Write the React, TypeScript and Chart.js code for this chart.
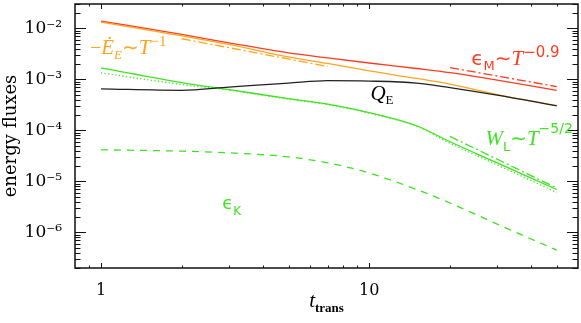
import React, { useEffect, useRef } from "react";
import { Chart, registerables } from "chart.js";

Chart.register(...registerables);

// ---- data ----
const tSim = [1, 2, 3, 5, 7, 10, 15, 20, 30, 50];
const epsM = [1.39e-2, 7.62e-3, 5.19e-3, 3.3e-3, 2.63e-3, 2.09e-3, 1.63e-3, 1.35e-3, 9.68e-4, 6.1e-4];
const dissE = [1.33e-2, 7.12e-3, 4.84e-3, 2.75e-3, 2.05e-3, 1.46e-3, 1.04e-3, 8.07e-4, 5.02e-4, 3.05e-4];
const qE = [6.5e-4, 6.1e-4, 7.05e-4, 8.45e-4, 9.46e-4, 9.26e-4, 8.45e-4, 6.9e-4, 4.91e-4, 3.02e-4];
const wL = [1.68e-3, 8.65e-4, 6.3e-4, 4.19e-4, 3.27e-4, 2.22e-4, 1.23e-4, 5.97e-5, 2.3e-5, 6.93e-6];
const wLdot = [1.34e-3, 7.91e-4, 6.15e-4, 4.09e-4, 3.19e-4, 2.17e-4, 1.21e-4, 5.57e-5, 2.1e-5, 6.05e-6];
const epsK = [4.15e-5, 3.91e-5, 3.62e-5, 3.02e-5, 2.3e-5, 1.46e-5, 6.93e-6, 3.76e-6, 1.45e-6, 4.47e-7];

// power-law guides
const tFitE = [2, 7];
const fitE = [6.25e-3, 1.79e-3];
const tFitM = [20, 50];
const fitM = [1.7e-3, 7.2e-4];
const tFitW = [20, 50];
const fitW = [7.59e-5, 7.41e-6];

// axes
const xRange = [0.8, 60];
const yRange = [2e-7, 3e-2];
const xMajorTicks = [1, 10];
const yMajorTicks = [1e-6, 1e-5, 1e-4, 1e-3, 1e-2];

const RED = "#ff3b1f";
const ORANGE = "#ffa41c";
const GREEN = "#3ee31f";
const BLACK = "#222222";

const SUP: Record<string, string> = {
  "-": "\u207B", "0": "\u2070", "1": "\u00B9", "2": "\u00B2", "3": "\u00B3",
  "4": "\u2074", "5": "\u2075", "6": "\u2076", "7": "\u2077", "8": "\u2078", "9": "\u2079",
};

const pts = (xs: number[], ys: number[]) => xs.map((x, i) => ({ x, y: ys[i] }));

type Part = [string, string, number];

function richWidth(ctx: CanvasRenderingContext2D, parts: Part[]) {
  let w = 0;
  for (const [t, f] of parts) {
    ctx.font = f;
    w += ctx.measureText(t).width;
  }
  return w;
}

function rich(ctx: CanvasRenderingContext2D, x: number, y: number, color: string, parts: Part[]) {
  ctx.fillStyle = color;
  ctx.textAlign = "left";
  ctx.textBaseline = "alphabetic";
  let cx = x;
  for (const [t, f, dy] of parts) {
    ctx.font = f;
    ctx.fillText(t, cx, y + dy);
    cx += ctx.measureText(t).width;
  }
}

const SER = '"Liberation Serif", serif';
const SANS = '"DejaVu Sans", sans-serif';

const framePlugin = {
  id: "frame",
  afterDraw(chart: any) {
    const { ctx, chartArea: a, scales } = chart;
    const xs = scales.x;
    const ys = scales.y;
    ctx.save();
    // frame
    ctx.strokeStyle = "#111";
    ctx.lineWidth = 1.5;
    ctx.strokeRect(a.left, a.top, a.right - a.left, a.bottom - a.top);
    // inner ticks
    ctx.lineWidth = 1;
    ctx.beginPath();
    for (let d = -8; d <= 0; d++) {
      for (let m = 1; m <= 9; m++) {
        const v = m * Math.pow(10, d);
        if (v < ys.min * 0.999 || v > ys.max * 1.001) continue;
        const py = Math.round(ys.getPixelForValue(v)) + 0.5;
        const L = m === 1 ? 11 : 5.5;
        ctx.moveTo(a.left, py);
        ctx.lineTo(a.left + L, py);
        ctx.moveTo(a.right, py);
        ctx.lineTo(a.right - L, py);
      }
    }
    for (let d = -1; d <= 2; d++) {
      for (let m = 1; m <= 9; m++) {
        const v = m * Math.pow(10, d);
        if (v <= xs.min * 1.001 || v >= xs.max * 0.999) continue;
        const px = Math.round(xs.getPixelForValue(v)) + 0.5;
        const L = m === 1 ? 5 : 2.5;
        ctx.moveTo(px, a.bottom);
        ctx.lineTo(px, a.bottom - L);
        ctx.moveTo(px, a.top);
        ctx.lineTo(px, a.top + L);
      }
    }
    ctx.stroke();

    const P = (xv: number, yv: number) => [xs.getPixelForValue(xv), ys.getPixelForValue(yv)];

    // annotations
    let [lx, ly] = P(0.91, 3.08e-3);
    rich(ctx, lx, ly, ORANGE, [
      ["\u2212", `20px ${SER}`, 0],
      ["\u0116", `italic 21px ${SER}`, 0],
      ["E", `italic 13px ${SER}`, 5],
      ["\u223C", `20px ${SANS}`, 0],
      ["T", `italic 21px ${SER}`, 0],
      ["\u22121", `15px ${SER}`, -8],
    ]);

    [lx, ly] = P(10.1, 3.9e-4);
    rich(ctx, lx, ly, "#000", [
      ["Q", `italic 21px ${SER}`, 0],
      ["E", `13px ${SER}`, 4],
    ]);

    [lx, ly] = P(24, 1.95e-3);
    rich(ctx, lx, ly, RED, [
      ["\u03F5", `20px ${SANS}`, 0],
      ["M", `13px ${SANS}`, 5],
      ["\u223C", `20px ${SANS}`, 0],
      ["T", `italic 21px ${SER}`, 0],
      ["\u22120.9", `15px ${SANS}`, -8],
    ]);

    [lx, ly] = P(27.1, 5.2e-5);
    rich(ctx, lx, ly, GREEN, [
      ["W", `italic 21px ${SER}`, 0],
      ["L", `13px ${SANS}`, 6],
      ["\u223C", `20px ${SANS}`, 0],
      ["T", `italic 21px ${SER}`, 0],
      ["\u22125/2", `14px ${SANS}`, -12],
    ]);

    [lx, ly] = P(2.83, 2.86e-6);
    rich(ctx, lx, ly, GREEN, [
      ["\u03F5", `18px ${SANS}`, 0],
      ["K", `12px ${SANS}`, 6],
    ]);

    // x-axis title
    const xt: Part[] = [
      ["t", `italic 21px ${SER}`, 0],
      ["trans", `bold 13px ${SER}`, 5],
    ];
    const w = richWidth(ctx, xt);
    rich(ctx, (a.left + a.right) / 2 - w / 2, 307, "#000", xt);

    ctx.restore();
  },
};

export default function App() {
  const ref = useRef<HTMLCanvasElement>(null);

  useEffect(() => {
    const line = (data: any[], color: string, dash: number[] = [], width = 1.3) => ({
      data,
      borderColor: color,
      backgroundColor: color,
      borderWidth: width,
      borderDash: dash,
      pointRadius: 0,
      fill: false,
      cubicInterpolationMode: "monotone" as const,
    });

    const zeroPad = (s: any) => {
      s.paddingTop = 0;
      s.paddingBottom = 0;
      s.paddingLeft = 0;
      s.paddingRight = 0;
    };

    const chart = new Chart(ref.current as HTMLCanvasElement, {
      type: "line",
      data: {
        datasets: [
          line(pts(tSim, qE), BLACK),
          line(pts(tSim, dissE), ORANGE),
          line(pts(tSim, epsM), RED),
          line(pts(tSim, wL), GREEN),
          line(pts(tSim, wLdot), GREEN, [1.2, 2.4]),
          line(pts(tSim, epsK), GREEN, [7, 6]),
          line(pts(tFitE, fitE), ORANGE, [9, 3, 2, 3]),
          line(pts(tFitM, fitM), RED, [9, 3, 2, 3]),
          line(pts(tFitW, fitW), GREEN, [9, 3, 2, 3]),
        ],
      },
      options: {
        responsive: false,
        animation: false,
        devicePixelRatio: 1,
        parsing: false as any,
        layout: { padding: { top: 4, right: 3, left: 0, bottom: 0 } },
        plugins: { legend: { display: false }, tooltip: { enabled: false } },
        scales: {
          x: {
            type: "logarithmic",
            min: xRange[0],
            max: xRange[1],
            bounds: "data",
            grid: { display: false, drawTicks: false },
            border: { display: false },
            afterBuildTicks: (s: any) => {
              s.ticks = xMajorTicks.map((v) => ({ value: v }));
            },
            afterFit: (s: any) => {
              s.height = 55;
              zeroPad(s);
            },
            ticks: {
              autoSkip: false,
              maxRotation: 0,
              padding: 13,
              color: "#000",
              font: { family: "DejaVu Serif", size: 16 },
              callback: (v: any) => String(v),
            },
          },
          y: {
            type: "logarithmic",
            min: yRange[0],
            max: yRange[1],
            bounds: "data",
            grid: { display: false, drawTicks: false },
            border: { display: false },
            afterBuildTicks: (s: any) => {
              s.ticks = yMajorTicks.map((v) => ({ value: v }));
            },
            afterFit: (s: any) => {
              s.width = 75;
              zeroPad(s);
            },
            ticks: {
              autoSkip: false,
              padding: 13,
              color: "#000",
              font: { family: "DejaVu Serif", size: 17 },
              callback: (v: any) => {
                const e = String(Math.round(Math.log10(Number(v))));
                return "10" + e.split("").map((c) => SUP[c] || c).join("");
              },
            },
            title: {
              display: true,
              text: "energy fluxes",
              color: "#000",
              font: { family: "DejaVu Serif", size: 18 },
              padding: { top: 1, bottom: 0 },
            },
          },
        },
      },
      plugins: [framePlugin],
    });
    return () => chart.destroy();
  }, []);

  return (
    <div style={{ position: "absolute", left: 0, top: 0, width: 581, height: 323, background: "#fff" }}>
      <canvas ref={ref} width={581} height={323} style={{ display: "block", width: 581, height: 323 }} />
    </div>
  );
}
